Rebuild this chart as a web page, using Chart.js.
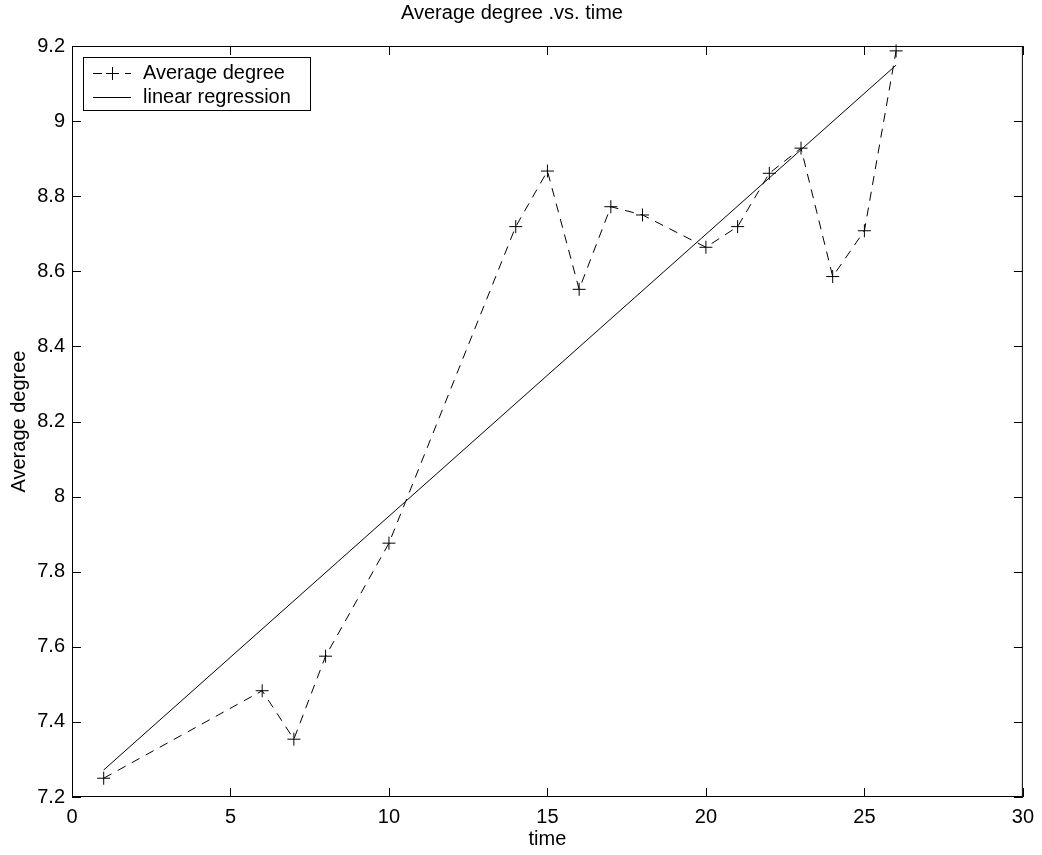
<!DOCTYPE html>
<html>
<head>
<meta charset="utf-8">
<script src="https://cdn.jsdelivr.net/npm/chart.js@4.4.1/dist/chart.umd.min.js"></script>
<style>
  html, body { margin: 0; padding: 0; background: #fff; }
  #wrap { width: 1042px; height: 855px; position: relative; }
</style>
</head>
<body>
<div id="wrap"><canvas id="degreeChart"></canvas></div>
<script>
// values
const timeValues = [1, 6, 7, 8, 10, 14, 15, 16, 17, 18, 20, 21, 22, 23, 24, 25, 26];
const avgDegree = [7.25, 7.483, 7.354, 7.575, 7.876, 8.719, 8.867, 8.552, 8.772, 8.75, 8.664, 8.719, 8.861, 8.928, 8.586, 8.708, 9.187];
const regressionX = [1, 26];
const regressionY = [7.272, 9.149];

const xTicks = [0, 5, 10, 15, 20, 25, 30];
const yTicks = [7.2, 7.4, 7.6, 7.8, 8, 8.2, 8.4, 8.6, 8.8, 9, 9.2];

const FONT = 'Liberation Sans, Arial, Helvetica, sans-serif';
const TICK_LEN = 9;

Chart.defaults.color = '#000';
Chart.defaults.font.family = FONT;

// MATLAB style box with inward ticks, plus the legend inside the axes
const matlabBox = {
    id: 'matlabBox',
    afterDatasetsDraw(chart) {
        const ctx = chart.ctx;
        const a = chart.chartArea;
        const xs = chart.scales.x;
        const ys = chart.scales.y;

        ctx.save();
        ctx.strokeStyle = '#000';
        ctx.lineWidth = 1;
        ctx.setLineDash([]);
        ctx.strokeRect(a.left + 0.5, a.top + 0.5, a.right - a.left - 1, a.bottom - a.top - 1);

        ctx.beginPath();
        xs.ticks.forEach(function (t) {
            const px = Math.round(xs.getPixelForValue(t.value)) + 0.5;
            ctx.moveTo(px, a.bottom);
            ctx.lineTo(px, a.bottom - TICK_LEN);
            ctx.moveTo(px, a.top);
            ctx.lineTo(px, a.top + TICK_LEN);
        });
        ys.ticks.forEach(function (t) {
            const py = Math.round(ys.getPixelForValue(t.value)) + 0.5;
            ctx.moveTo(a.left, py);
            ctx.lineTo(a.left + TICK_LEN, py);
            ctx.moveTo(a.right, py);
            ctx.lineTo(a.right - TICK_LEN, py);
        });
        ctx.stroke();

        // legend
        const bx = a.left + 11, by = a.top + 11, bw = 227, bh = 53;
        ctx.fillStyle = '#fff';
        ctx.fillRect(bx, by, bw, bh);
        ctx.strokeRect(bx + 0.5, by + 0.5, bw, bh);

        ctx.font = '20px ' + FONT;
        ctx.textBaseline = 'middle';
        ctx.textAlign = 'left';
        chart.data.datasets.forEach(function (ds, i) {
            const cy = Math.round(by + 16 + i * 23.5) + 0.5;
            const x0 = bx + 10, x1 = bx + 48;
            ctx.beginPath();
            ctx.setLineDash(ds.borderDash || []);
            ctx.moveTo(x0, cy);
            ctx.lineTo(x1, cy);
            ctx.stroke();
            ctx.setLineDash([]);
            if (ds.pointRadius) {
                const cx = Math.round((x0 + x1) / 2) + 0.5;
                const r = ds.pointRadius;
                ctx.beginPath();
                ctx.moveTo(cx - r, cy);
                ctx.lineTo(cx + r, cy);
                ctx.moveTo(cx, cy - r);
                ctx.lineTo(cx, cy + r);
                ctx.stroke();
            }
            ctx.fillStyle = '#000';
            ctx.fillText(ds.label, bx + 60, cy);
        });
        ctx.restore();
    }
};

const ctx = document.getElementById('degreeChart').getContext('2d');
new Chart(ctx, {
    type: 'line',
    data: {
        datasets: [
            {
                label: 'Average degree',
                data: timeValues.map((t, i) => ({ x: t, y: avgDegree[i] })),
                borderColor: '#000',
                borderWidth: 1,
                borderDash: [9, 7],
                pointStyle: 'cross',
                pointRadius: 6.5,
                pointBorderWidth: 1,
                pointBorderColor: '#000',
                tension: 0,
                fill: false,
                clip: 10
            },
            {
                label: 'linear regression',
                data: regressionX.map((t, i) => ({ x: t, y: regressionY[i] })),
                borderColor: '#000',
                borderWidth: 1,
                pointRadius: 0,
                tension: 0,
                fill: false
            }
        ]
    },
    options: {
        responsive: true,
        maintainAspectRatio: false,
        animation: false,
        layout: {
            padding: { top: 1, right: 18, bottom: 0, left: 0 }
        },
        plugins: {
            legend: { display: false },
            tooltip: { enabled: false },
            title: {
                display: true,
                text: 'Average degree .vs. time',
                font: { size: 20, weight: 'normal', lineHeight: 1.2 },
                padding: { top: 0, bottom: 21 }
            }
        },
        scales: {
            x: {
                type: 'linear',
                min: 0,
                max: 30,
                afterBuildTicks: function (scale) {
                    scale.ticks = xTicks.map(v => ({ value: v }));
                },
                afterFit: function (scale) { scale.height = 58; },
                grid: { display: false, drawTicks: false },
                border: { display: false },
                ticks: {
                    font: { size: 20 },
                    padding: 8,
                    maxRotation: 0,
                    autoSkip: false
                },
                title: {
                    display: true,
                    text: 'time',
                    font: { size: 20, lineHeight: 1.2 },
                    padding: { top: 0, bottom: 4 }
                }
            },
            y: {
                type: 'linear',
                min: 7.2,
                max: 9.2,
                afterBuildTicks: function (scale) {
                    scale.ticks = yTicks.map(v => ({ value: v }));
                },
                afterFit: function (scale) { scale.width = 72; },
                grid: { display: false, drawTicks: false },
                border: { display: false },
                ticks: {
                    font: { size: 20 },
                    padding: 7,
                    autoSkip: false,
                    callback: function (v) { return String(Number(v.toFixed(1))); }
                },
                title: {
                    display: true,
                    text: 'Average degree',
                    font: { size: 20, lineHeight: 1.2 },
                    padding: { top: 7, bottom: 0 }
                }
            }
        }
    },
    plugins: [matlabBox]
});
</script>
</body>
</html>
